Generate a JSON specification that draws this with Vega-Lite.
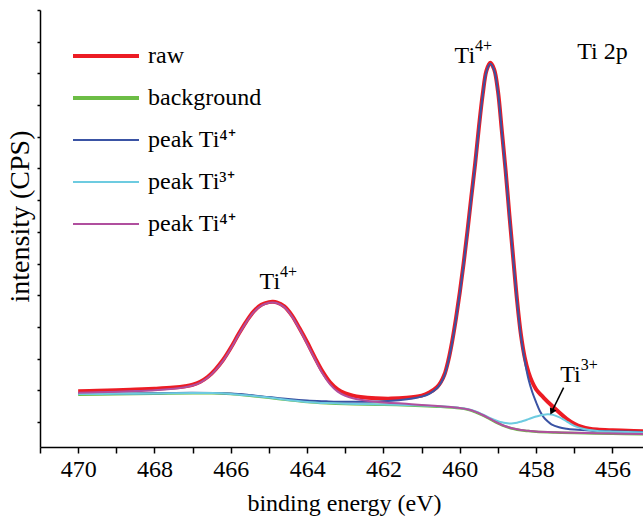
{
  "$schema": "https://vega.github.io/schema/vega-lite/v6.json",
  "width": 603,
  "height": 437,
  "autosize": "none",
  "padding": {"left": 40, "top": 10, "right": 0, "bottom": 69},
  "background": "white",
  "config": {
    "font": "Liberation Serif",
    "view": {"stroke": null},
    "style": {
      "guide-label": {"font": "Liberation Serif", "fill": "black"},
      "guide-title": {"font": "Liberation Serif", "fill": "black", "fontWeight": "normal"}
    },
    "axis": {"grid": false, "domainColor": "black", "domainWidth": 1.5, "tickColor": "black", "tickWidth": 1.5, "labelColor": "black", "titleColor": "black", "labelFont": "Liberation Serif", "titleFont": "Liberation Serif", "titleFontWeight": "normal"},
    "legend": {"labelFont": "Liberation Serif"}
  },
  "datasets": {
    "spectra": [
      {"series":"raw","energy":470.0,"cps":1969},{"series":"raw","energy":469.5,"cps":1984},{"series":"raw","energy":469.0,"cps":2000},{"series":"raw","energy":468.5,"cps":2022},{"series":"raw","energy":468.0,"cps":2048},{"series":"raw","energy":467.5,"cps":2085},{"series":"raw","energy":467.2,"cps":2126},{"series":"raw","energy":467.0,"cps":2174},{"series":"raw","energy":466.8,"cps":2268},{"series":"raw","energy":466.6,"cps":2426},{"series":"raw","energy":466.4,"cps":2663},{"series":"raw","energy":466.2,"cps":2963},{"series":"raw","energy":466.0,"cps":3341},{"series":"raw","energy":465.8,"cps":3767},{"series":"raw","energy":465.6,"cps":4161},{"series":"raw","energy":465.4,"cps":4493},{"series":"raw","energy":465.2,"cps":4698},{"series":"raw","energy":465.0,"cps":4783},{"series":"raw","energy":464.9,"cps":4792},{"series":"raw","energy":464.8,"cps":4777},{"series":"raw","energy":464.6,"cps":4650},{"series":"raw","energy":464.4,"cps":4367},{"series":"raw","energy":464.2,"cps":3956},{"series":"raw","energy":464.0,"cps":3515},{"series":"raw","energy":463.8,"cps":3041},{"series":"raw","energy":463.6,"cps":2600},{"series":"raw","energy":463.4,"cps":2253},{"series":"raw","energy":463.2,"cps":2032},{"series":"raw","energy":463.0,"cps":1906},{"series":"raw","energy":462.8,"cps":1833},{"series":"raw","energy":462.6,"cps":1789},{"series":"raw","energy":462.2,"cps":1748},{"series":"raw","energy":461.8,"cps":1738},{"series":"raw","energy":461.4,"cps":1764},{"series":"raw","energy":461.0,"cps":1833},{"series":"raw","energy":460.8,"cps":1928},{"series":"raw","energy":460.6,"cps":2095},{"series":"raw","energy":460.5,"cps":2253},{"series":"raw","energy":460.4,"cps":2505},{"series":"raw","energy":460.3,"cps":2947},{"series":"raw","energy":460.2,"cps":3546},{"series":"raw","energy":460.1,"cps":4272},{"series":"raw","energy":460.0,"cps":5092},{"series":"raw","energy":459.9,"cps":6007},{"series":"raw","energy":459.8,"cps":7017},{"series":"raw","energy":459.7,"cps":8089},{"series":"raw","energy":459.6,"cps":9131},{"series":"raw","energy":459.5,"cps":10298},{"series":"raw","energy":459.4,"cps":11339},{"series":"raw","energy":459.3,"cps":12096},{"series":"raw","energy":459.2,"cps":12333},{"series":"raw","energy":459.1,"cps":12128},{"series":"raw","energy":459.0,"cps":11434},{"series":"raw","energy":458.9,"cps":10203},{"series":"raw","energy":458.8,"cps":8941},{"series":"raw","energy":458.7,"cps":7522},{"series":"raw","energy":458.6,"cps":6165},{"series":"raw","energy":458.5,"cps":4840},{"series":"raw","energy":458.4,"cps":3767},{"series":"raw","energy":458.3,"cps":3041},{"series":"raw","energy":458.2,"cps":2568},{"series":"raw","energy":458.1,"cps":2253},{"series":"raw","energy":458.0,"cps":2032},{"series":"raw","energy":457.8,"cps":1764},{"series":"raw","energy":457.6,"cps":1527},{"series":"raw","energy":457.4,"cps":1306},{"series":"raw","energy":457.2,"cps":1101},{"series":"raw","energy":457.0,"cps":943},{"series":"raw","energy":456.8,"cps":842},{"series":"raw","energy":456.6,"cps":786},{"series":"raw","energy":456.4,"cps":760},{"series":"raw","energy":456.0,"cps":738},{"series":"raw","energy":455.6,"cps":722},{"series":"raw","energy":455.2,"cps":707},

      {"series":"background","energy":470.0,"cps":1858},{"series":"background","energy":469.0,"cps":1874},{"series":"background","energy":468.0,"cps":1890},{"series":"background","energy":467.0,"cps":1906},{"series":"background","energy":466.5,"cps":1906},{"series":"background","energy":466.0,"cps":1880},{"series":"background","energy":465.5,"cps":1827},{"series":"background","energy":465.0,"cps":1764},{"series":"background","energy":464.5,"cps":1691},{"series":"background","energy":464.0,"cps":1628},{"series":"background","energy":463.5,"cps":1590},{"series":"background","energy":463.0,"cps":1565},{"series":"background","energy":462.0,"cps":1543},{"series":"background","energy":461.0,"cps":1508},{"series":"background","energy":460.5,"cps":1480},{"series":"background","energy":460.0,"cps":1432},{"series":"background","energy":459.8,"cps":1391},{"series":"background","energy":459.6,"cps":1316},{"series":"background","energy":459.4,"cps":1212},{"series":"background","energy":459.2,"cps":1085},{"series":"background","energy":459.0,"cps":959},{"series":"background","energy":458.8,"cps":855},{"series":"background","energy":458.6,"cps":786},{"series":"background","energy":458.4,"cps":738},{"series":"background","energy":458.2,"cps":713},{"series":"background","energy":458.0,"cps":691},{"series":"background","energy":457.5,"cps":666},{"series":"background","energy":457.0,"cps":650},{"series":"background","energy":456.0,"cps":628},{"series":"background","energy":455.2,"cps":612},

      {"series":"ti4a","energy":470.0,"cps":1890},{"series":"ti4a","energy":469.0,"cps":1896},{"series":"ti4a","energy":468.0,"cps":1906},{"series":"ti4a","energy":467.0,"cps":1921},{"series":"ti4a","energy":466.0,"cps":1896},{"series":"ti4a","energy":465.5,"cps":1849},{"series":"ti4a","energy":465.0,"cps":1786},{"series":"ti4a","energy":464.5,"cps":1723},{"series":"ti4a","energy":464.0,"cps":1675},{"series":"ti4a","energy":463.5,"cps":1653},{"series":"ti4a","energy":463.0,"cps":1637},{"series":"ti4a","energy":462.5,"cps":1637},{"series":"ti4a","energy":462.0,"cps":1653},{"series":"ti4a","energy":461.6,"cps":1685},{"series":"ti4a","energy":461.2,"cps":1748},{"series":"ti4a","energy":461.0,"cps":1801},{"series":"ti4a","energy":460.8,"cps":1890},{"series":"ti4a","energy":460.6,"cps":2063},{"series":"ti4a","energy":460.5,"cps":2221},{"series":"ti4a","energy":460.4,"cps":2474},{"series":"ti4a","energy":460.3,"cps":2915},{"series":"ti4a","energy":460.2,"cps":3515},{"series":"ti4a","energy":460.1,"cps":4240},{"series":"ti4a","energy":460.0,"cps":5061},{"series":"ti4a","energy":459.9,"cps":5976},{"series":"ti4a","energy":459.8,"cps":6985},{"series":"ti4a","energy":459.7,"cps":8058},{"series":"ti4a","energy":459.6,"cps":9099},{"series":"ti4a","energy":459.5,"cps":10266},{"series":"ti4a","energy":459.4,"cps":11308},{"series":"ti4a","energy":459.3,"cps":12065},{"series":"ti4a","energy":459.2,"cps":12301},{"series":"ti4a","energy":459.1,"cps":12096},{"series":"ti4a","energy":459.0,"cps":11402},{"series":"ti4a","energy":458.9,"cps":10172},{"series":"ti4a","energy":458.8,"cps":8910},{"series":"ti4a","energy":458.7,"cps":7490},{"series":"ti4a","energy":458.6,"cps":6133},{"series":"ti4a","energy":458.5,"cps":4800},{"series":"ti4a","energy":458.4,"cps":3700},{"series":"ti4a","energy":458.3,"cps":2947},{"series":"ti4a","energy":458.2,"cps":2347},{"series":"ti4a","energy":458.1,"cps":1937},{"series":"ti4a","energy":458.0,"cps":1622},{"series":"ti4a","energy":457.9,"cps":1338},{"series":"ti4a","energy":457.8,"cps":1148},{"series":"ti4a","energy":457.7,"cps":1022},{"series":"ti4a","energy":457.6,"cps":928},{"series":"ti4a","energy":457.4,"cps":833},{"series":"ti4a","energy":457.2,"cps":786},{"series":"ti4a","energy":457.0,"cps":760},{"series":"ti4a","energy":456.6,"cps":729},{"series":"ti4a","energy":456.0,"cps":707},{"series":"ti4a","energy":455.2,"cps":685},

      {"series":"ti3","energy":470.0,"cps":1880},{"series":"ti3","energy":469.0,"cps":1890},{"series":"ti3","energy":468.0,"cps":1899},{"series":"ti3","energy":467.0,"cps":1912},{"series":"ti3","energy":466.5,"cps":1912},{"series":"ti3","energy":466.0,"cps":1887},{"series":"ti3","energy":465.5,"cps":1833},{"series":"ti3","energy":465.0,"cps":1770},{"series":"ti3","energy":464.5,"cps":1697},{"series":"ti3","energy":464.0,"cps":1634},{"series":"ti3","energy":463.5,"cps":1596},{"series":"ti3","energy":463.0,"cps":1574},{"series":"ti3","energy":462.0,"cps":1552},{"series":"ti3","energy":461.0,"cps":1518},{"series":"ti3","energy":460.5,"cps":1489},{"series":"ti3","energy":460.0,"cps":1445},{"series":"ti3","energy":459.8,"cps":1407},{"series":"ti3","energy":459.6,"cps":1338},{"series":"ti3","energy":459.4,"cps":1237},{"series":"ti3","energy":459.2,"cps":1123},{"series":"ti3","energy":459.0,"cps":1029},{"series":"ti3","energy":458.9,"cps":991},{"series":"ti3","energy":458.8,"cps":965},{"series":"ti3","energy":458.7,"cps":953},{"series":"ti3","energy":458.6,"cps":959},{"series":"ti3","energy":458.5,"cps":978},{"series":"ti3","energy":458.4,"cps":1010},{"series":"ti3","energy":458.3,"cps":1047},{"series":"ti3","energy":458.2,"cps":1092},{"series":"ti3","energy":458.1,"cps":1133},{"series":"ti3","energy":458.0,"cps":1171},{"series":"ti3","energy":457.9,"cps":1205},{"series":"ti3","energy":457.8,"cps":1230},{"series":"ti3","energy":457.7,"cps":1243},{"series":"ti3","energy":457.6,"cps":1234},{"series":"ti3","energy":457.5,"cps":1202},{"series":"ti3","energy":457.4,"cps":1155},{"series":"ti3","energy":457.3,"cps":1092},{"series":"ti3","energy":457.2,"cps":1016},{"series":"ti3","energy":457.1,"cps":943},{"series":"ti3","energy":457.0,"cps":880},{"series":"ti3","energy":456.8,"cps":792},{"series":"ti3","energy":456.6,"cps":745},{"series":"ti3","energy":456.4,"cps":716},{"series":"ti3","energy":456.0,"cps":694},{"series":"ti3","energy":455.6,"cps":681},{"series":"ti3","energy":455.2,"cps":672},

      {"series":"ti4b","energy":470.0,"cps":1921},{"series":"ti4b","energy":469.5,"cps":1937},{"series":"ti4b","energy":469.0,"cps":1953},{"series":"ti4b","energy":468.5,"cps":1975},{"series":"ti4b","energy":468.0,"cps":2000},{"series":"ti4b","energy":467.5,"cps":2048},{"series":"ti4b","energy":467.2,"cps":2095},{"series":"ti4b","energy":467.0,"cps":2149},{"series":"ti4b","energy":466.8,"cps":2243},{"series":"ti4b","energy":466.6,"cps":2401},{"series":"ti4b","energy":466.4,"cps":2638},{"series":"ti4b","energy":466.2,"cps":2937},{"series":"ti4b","energy":466.0,"cps":3316},{"series":"ti4b","energy":465.8,"cps":3742},{"series":"ti4b","energy":465.6,"cps":4136},{"series":"ti4b","energy":465.4,"cps":4467},{"series":"ti4b","energy":465.2,"cps":4673},{"series":"ti4b","energy":465.0,"cps":4761},{"series":"ti4b","energy":464.9,"cps":4770},{"series":"ti4b","energy":464.8,"cps":4755},{"series":"ti4b","energy":464.6,"cps":4625},{"series":"ti4b","energy":464.4,"cps":4335},{"series":"ti4b","energy":464.2,"cps":3925},{"series":"ti4b","energy":464.0,"cps":3467},{"series":"ti4b","energy":463.8,"cps":2994},{"series":"ti4b","energy":463.6,"cps":2537},{"series":"ti4b","energy":463.4,"cps":2190},{"series":"ti4b","energy":463.2,"cps":1959},{"series":"ti4b","energy":463.0,"cps":1827},{"series":"ti4b","energy":462.8,"cps":1748},{"series":"ti4b","energy":462.6,"cps":1701},{"series":"ti4b","energy":462.2,"cps":1637},{"series":"ti4b","energy":461.8,"cps":1603},{"series":"ti4b","energy":461.4,"cps":1574},{"series":"ti4b","energy":461.0,"cps":1540},{"series":"ti4b","energy":460.5,"cps":1495},{"series":"ti4b","energy":460.0,"cps":1445},{"series":"ti4b","energy":459.8,"cps":1401},{"series":"ti4b","energy":459.6,"cps":1328},{"series":"ti4b","energy":459.4,"cps":1221},{"series":"ti4b","energy":459.2,"cps":1095},{"series":"ti4b","energy":459.0,"cps":969},{"series":"ti4b","energy":458.8,"cps":864},{"series":"ti4b","energy":458.6,"cps":795},{"series":"ti4b","energy":458.4,"cps":748},{"series":"ti4b","energy":458.2,"cps":722},{"series":"ti4b","energy":458.0,"cps":700},{"series":"ti4b","energy":457.5,"cps":675},{"series":"ti4b","energy":457.0,"cps":659},{"series":"ti4b","energy":456.0,"cps":637},{"series":"ti4b","energy":455.2,"cps":622}
    ],
    "notes": [
      {"energy": 464.71, "cps": 5187, "base": "Ti", "sup": "4+"},
      {"energy": 459.60, "cps": 12317, "base": "Ti", "sup": "4+"},
      {"energy": 455.60, "cps": 12459, "base": "Ti 2p", "sup": ""},
      {"energy": 456.83, "cps": 2262, "base": "Ti", "sup": "3+"}
    ],
    "arrow": [
      {"energy": 457.28, "cps": 2085, "energy2": 457.59, "cps2": 1325}
    ]
  },
  "encoding": {
    "x": {
      "field": "energy", "type": "quantitative",
      "scale": {"domain": [455.2, 471], "reverse": true, "nice": false, "zero": false},
      "axis": {
        "title": "binding energy (eV)",
        "values": [471, 470, 469, 468, 467, 466, 465, 464, 463, 462, 461, 460, 459, 458, 457, 456],
        "labelExpr": "datum.value % 2 === 0 ? datum.label : ''",
        "tickSize": 6, "labelFontSize": 24, "labelFont": "Liberation Serif", "labelPadding": 4, "labelOverlap": false, "labelFlush": false,
        "titleFontSize": 24, "titleFont": "Liberation Serif", "titleX": 304, "titleY": 63, "titleBaseline": "alphabetic"
      }
    },
    "y": {
      "field": "cps", "type": "quantitative",
      "scale": {"domain": [211, 14000], "nice": false, "zero": false},
      "axis": {
        "title": "intensity (CPS)", "labels": false,
        "values": [1000, 2000, 3000, 4000, 5000, 6000, 7000, 8000, 9000, 10000, 11000, 12000, 13000, 14000],
        "tickSize": 3, "titleFontSize": 28, "titleFont": "Liberation Serif", "titleX": -12, "titleY": 206, "titleBaseline": "alphabetic"
      }
    }
  },
  "layer": [
    {
      "data": {"values": [{}]},
      "mark": {"type": "rule", "color": "black", "strokeWidth": 1.5},
      "encoding": {"x": {"datum": 471, "type": "quantitative"}, "x2": {"datum": 455.2}, "y": {"datum": 14000, "type": "quantitative"}}
    },
    {
      "data": {"name": "spectra"},
      "encoding": {
        "color": {
          "field": "series", "type": "nominal",
          "scale": {"domain": ["raw", "background", "ti4a", "ti3", "ti4b"], "range": ["#EC1C24", "#6CBD45", "#3A53A4", "#6DCBE0", "#B04F9E"]},
          "legend": {
            "title": null, "orient": "none", "legendX": 33, "legendY": 34,
            "symbolType": "stroke", "symbolSize": 4356, "symbolStrokeWidth": 2,
            "labelFontSize": 24, "labelFont": "Liberation Serif", "labelColor": "black",
            "labelOffset": 9, "rowPadding": 18,
            "labelExpr": "datum.value === 'ti3' ? 'peak Ti³⁺' : (datum.value === 'ti4a' || datum.value === 'ti4b') ? 'peak Ti⁴⁺' : datum.value",
            "encode": {
              "symbols": {"update": {"x": {"value": 33}, "strokeWidth": {"signal": "datum.value === 'raw' || datum.value === 'background' ? 4 : 2"}}},
              "labels": {"update": {"x": {"value": 75}, "font": {"value": "Liberation Serif"}}}
            }
          }
        }
      },
      "layer": [
        {"transform": [{"filter": "datum.series === 'raw'"}], "mark": {"type": "line", "strokeWidth": 4, "interpolate": "catmull-rom"}},
        {"transform": [{"filter": "datum.series === 'background'"}], "mark": {"type": "line", "strokeWidth": 2.5, "interpolate": "catmull-rom"}},
        {"transform": [{"filter": "datum.series === 'ti4a'"}], "mark": {"type": "line", "strokeWidth": 2, "interpolate": "catmull-rom"}},
        {"transform": [{"filter": "datum.series === 'ti3'"}], "mark": {"type": "line", "strokeWidth": 2, "interpolate": "catmull-rom"}},
        {"transform": [{"filter": "datum.series === 'ti4b'"}], "mark": {"type": "line", "strokeWidth": 2, "interpolate": "catmull-rom"}}
      ]
    },
    {
      "data": {"name": "arrow"},
      "mark": {"type": "rule", "color": "black", "strokeWidth": 1.5},
      "encoding": {"x2": {"field": "energy2"}, "y2": {"field": "cps2"}}
    },
    {
      "data": {"name": "arrow"},
      "mark": {"type": "point", "shape": "triangle-up", "angle": 206, "filled": true, "color": "black", "size": 55, "opacity": 1},
      "encoding": {"x": {"field": "energy2", "type": "quantitative"}, "y": {"field": "cps2", "type": "quantitative"}}
    },
    {
      "data": {"name": "notes"},
      "mark": {"type": "text", "fontSize": 24, "font": "Liberation Serif", "color": "black", "align": "right", "baseline": "alphabetic"},
      "encoding": {"text": {"field": "base"}}
    },
    {
      "data": {"name": "notes"},
      "mark": {"type": "text", "fontSize": 16, "font": "Liberation Serif", "color": "black", "align": "left", "baseline": "alphabetic", "dy": -12},
      "encoding": {"text": {"field": "sup"}}
    }
  ]
}
